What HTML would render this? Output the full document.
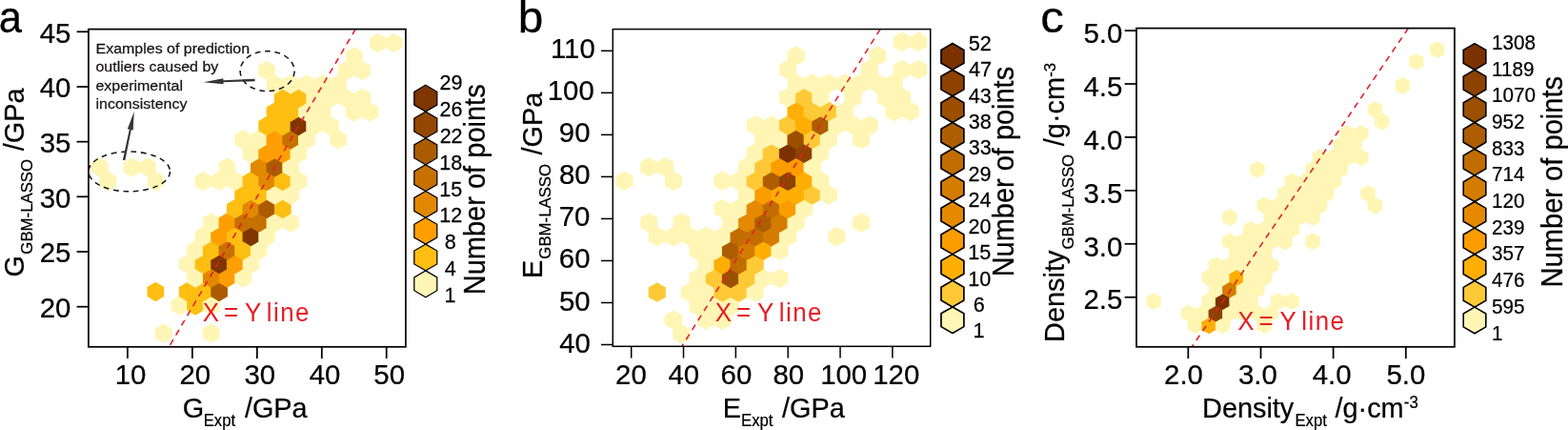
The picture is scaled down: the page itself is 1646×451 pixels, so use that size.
<!DOCTYPE html>
<html lang="en"><head><meta charset="utf-8"><title>Hexbin parity plots</title>
<style>html,body{margin:0;padding:0;background:#fff}body{width:1646px;height:451px;overflow:hidden}svg{display:block}text{font-family:"Liberation Sans",sans-serif;fill:#000;stroke:#000;stroke-width:0.25;stroke-linejoin:round}</style></head><body>
<svg width="1646" height="451" viewBox="0 0 1646 451">
<rect width="1646" height="451" fill="#fff"/>
<g id="panel-a">
<clipPath id="clip0"><rect x="92.90" y="30.60" width="333.00" height="333.20"/></clipPath>
<g clip-path="url(#clip0)">
<polygon points="171.70,339.26 180.54,344.38 180.54,354.62 171.70,359.74 162.86,354.62 162.86,344.38" fill="#fff6b5"/>
<polygon points="221.74,339.26 230.58,344.38 230.58,354.62 221.74,359.74 212.90,354.62 212.90,344.38" fill="#fff6b5"/>
<polygon points="188.38,310.26 197.22,315.38 197.22,325.62 188.38,330.74 179.54,325.62 179.54,315.38" fill="#fff6b5"/>
<polygon points="205.06,310.26 213.90,315.38 213.90,325.62 205.06,330.74 196.22,325.62 196.22,315.38" fill="#febe12"/>
<polygon points="221.74,310.26 230.58,315.38 230.58,325.62 221.74,330.74 212.90,325.62 212.90,315.38" fill="#fff6b5"/>
<polygon points="163.36,295.76 172.20,300.88 172.20,311.12 163.36,316.24 154.52,311.12 154.52,300.88" fill="#febe12"/>
<polygon points="196.72,295.76 205.56,300.88 205.56,311.12 196.72,316.24 187.88,311.12 187.88,300.88" fill="#febe12"/>
<polygon points="213.40,295.76 222.24,300.88 222.24,311.12 213.40,316.24 204.56,311.12 204.56,300.88" fill="#febe12"/>
<polygon points="230.08,295.76 238.92,300.88 238.92,311.12 230.08,316.24 221.24,311.12 221.24,300.88" fill="#ab5c00"/>
<polygon points="205.06,281.26 213.90,286.38 213.90,296.62 205.06,301.74 196.22,296.62 196.22,286.38" fill="#fff6b5"/>
<polygon points="221.74,281.26 230.58,286.38 230.58,296.62 221.74,301.74 212.90,296.62 212.90,286.38" fill="#e28800"/>
<polygon points="238.42,281.26 247.26,286.38 247.26,296.62 238.42,301.74 229.58,296.62 229.58,286.38" fill="#fe9e02"/>
<polygon points="255.10,281.26 263.94,286.38 263.94,296.62 255.10,301.74 246.26,296.62 246.26,286.38" fill="#fff6b5"/>
<polygon points="196.72,266.76 205.56,271.88 205.56,282.12 196.72,287.24 187.88,282.12 187.88,271.88" fill="#fff6b5"/>
<polygon points="213.40,266.76 222.24,271.88 222.24,282.12 213.40,287.24 204.56,282.12 204.56,271.88" fill="#febe12"/>
<polygon points="230.08,266.76 238.92,271.88 238.92,282.12 230.08,287.24 221.24,282.12 221.24,271.88" fill="#7f3600"/>
<polygon points="246.76,266.76 255.60,271.88 255.60,282.12 246.76,287.24 237.92,282.12 237.92,271.88" fill="#fe9e02"/>
<polygon points="263.44,266.76 272.28,271.88 272.28,282.12 263.44,287.24 254.60,282.12 254.60,271.88" fill="#fff6b5"/>
<polygon points="205.06,252.26 213.90,257.38 213.90,267.62 205.06,272.74 196.22,267.62 196.22,257.38" fill="#fff6b5"/>
<polygon points="221.74,252.26 230.58,257.38 230.58,267.62 221.74,272.74 212.90,267.62 212.90,257.38" fill="#febe12"/>
<polygon points="238.42,252.26 247.26,257.38 247.26,267.62 238.42,272.74 229.58,267.62 229.58,257.38" fill="#c67100"/>
<polygon points="255.10,252.26 263.94,257.38 263.94,267.62 255.10,272.74 246.26,267.62 246.26,257.38" fill="#febe12"/>
<polygon points="271.78,252.26 280.62,257.38 280.62,267.62 271.78,272.74 262.94,267.62 262.94,257.38" fill="#fff6b5"/>
<polygon points="213.40,237.76 222.24,242.88 222.24,253.12 213.40,258.24 204.56,253.12 204.56,242.88" fill="#fff6b5"/>
<polygon points="230.08,237.76 238.92,242.88 238.92,253.12 230.08,258.24 221.24,253.12 221.24,242.88" fill="#fe9e02"/>
<polygon points="246.76,237.76 255.60,242.88 255.60,253.12 246.76,258.24 237.92,253.12 237.92,242.88" fill="#febe12"/>
<polygon points="263.44,237.76 272.28,242.88 272.28,253.12 263.44,258.24 254.60,253.12 254.60,242.88" fill="#7f3600"/>
<polygon points="280.12,237.76 288.96,242.88 288.96,253.12 280.12,258.24 271.28,253.12 271.28,242.88" fill="#fff6b5"/>
<polygon points="221.74,223.26 230.58,228.38 230.58,238.62 221.74,243.74 212.90,238.62 212.90,228.38" fill="#fff6b5"/>
<polygon points="238.42,223.26 247.26,228.38 247.26,238.62 238.42,243.74 229.58,238.62 229.58,228.38" fill="#fe9e02"/>
<polygon points="255.10,223.26 263.94,228.38 263.94,238.62 255.10,243.74 246.26,238.62 246.26,228.38" fill="#c67100"/>
<polygon points="271.78,223.26 280.62,228.38 280.62,238.62 271.78,243.74 262.94,238.62 262.94,228.38" fill="#c67100"/>
<polygon points="288.46,223.26 297.30,228.38 297.30,238.62 288.46,243.74 279.62,238.62 279.62,228.38" fill="#fff6b5"/>
<polygon points="305.14,223.26 313.98,228.38 313.98,238.62 305.14,243.74 296.30,238.62 296.30,228.38" fill="#fff6b5"/>
<polygon points="246.76,208.76 255.60,213.88 255.60,224.12 246.76,229.24 237.92,224.12 237.92,213.88" fill="#febe12"/>
<polygon points="263.44,208.76 272.28,213.88 272.28,224.12 263.44,229.24 254.60,224.12 254.60,213.88" fill="#e28800"/>
<polygon points="280.12,208.76 288.96,213.88 288.96,224.12 280.12,229.24 271.28,224.12 271.28,213.88" fill="#ab5c00"/>
<polygon points="296.80,208.76 305.64,213.88 305.64,224.12 296.80,229.24 287.96,224.12 287.96,213.88" fill="#febe12"/>
<polygon points="255.10,194.26 263.94,199.38 263.94,209.62 255.10,214.74 246.26,209.62 246.26,199.38" fill="#febe12"/>
<polygon points="271.78,194.26 280.62,199.38 280.62,209.62 271.78,214.74 262.94,209.62 262.94,199.38" fill="#febe12"/>
<polygon points="288.46,194.26 297.30,199.38 297.30,209.62 288.46,214.74 279.62,209.62 279.62,199.38" fill="#fff6b5"/>
<polygon points="305.14,194.26 313.98,199.38 313.98,209.62 305.14,214.74 296.30,209.62 296.30,199.38" fill="#fff6b5"/>
<polygon points="113.32,179.76 122.16,184.88 122.16,195.12 113.32,200.24 104.48,195.12 104.48,184.88" fill="#fff6b5"/>
<polygon points="163.36,179.76 172.20,184.88 172.20,195.12 163.36,200.24 154.52,195.12 154.52,184.88" fill="#fff6b5"/>
<polygon points="213.40,179.76 222.24,184.88 222.24,195.12 213.40,200.24 204.56,195.12 204.56,184.88" fill="#fff6b5"/>
<polygon points="230.08,179.76 238.92,184.88 238.92,195.12 230.08,200.24 221.24,195.12 221.24,184.88" fill="#fff6b5"/>
<polygon points="246.76,179.76 255.60,184.88 255.60,195.12 246.76,200.24 237.92,195.12 237.92,184.88" fill="#fff6b5"/>
<polygon points="263.44,179.76 272.28,184.88 272.28,195.12 263.44,200.24 254.60,195.12 254.60,184.88" fill="#febe12"/>
<polygon points="280.12,179.76 288.96,184.88 288.96,195.12 280.12,200.24 271.28,195.12 271.28,184.88" fill="#e28800"/>
<polygon points="296.80,179.76 305.64,184.88 305.64,195.12 296.80,200.24 287.96,195.12 287.96,184.88" fill="#febe12"/>
<polygon points="313.48,179.76 322.32,184.88 322.32,195.12 313.48,200.24 304.64,195.12 304.64,184.88" fill="#fff6b5"/>
<polygon points="104.98,165.26 113.82,170.38 113.82,180.62 104.98,185.74 96.14,180.62 96.14,170.38" fill="#fff6b5"/>
<polygon points="138.34,165.26 147.18,170.38 147.18,180.62 138.34,185.74 129.50,180.62 129.50,170.38" fill="#fff6b5"/>
<polygon points="155.02,165.26 163.86,170.38 163.86,180.62 155.02,185.74 146.18,180.62 146.18,170.38" fill="#fff6b5"/>
<polygon points="238.42,165.26 247.26,170.38 247.26,180.62 238.42,185.74 229.58,180.62 229.58,170.38" fill="#fff6b5"/>
<polygon points="271.78,165.26 280.62,170.38 280.62,180.62 271.78,185.74 262.94,180.62 262.94,170.38" fill="#e28800"/>
<polygon points="288.46,165.26 297.30,170.38 297.30,180.62 288.46,185.74 279.62,180.62 279.62,170.38" fill="#ab5c00"/>
<polygon points="305.14,165.26 313.98,170.38 313.98,180.62 305.14,185.74 296.30,180.62 296.30,170.38" fill="#fff6b5"/>
<polygon points="263.44,150.76 272.28,155.88 272.28,166.12 263.44,171.24 254.60,166.12 254.60,155.88" fill="#fff6b5"/>
<polygon points="280.12,150.76 288.96,155.88 288.96,166.12 280.12,171.24 271.28,166.12 271.28,155.88" fill="#fe9e02"/>
<polygon points="296.80,150.76 305.64,155.88 305.64,166.12 296.80,171.24 287.96,166.12 287.96,155.88" fill="#fe9e02"/>
<polygon points="313.48,150.76 322.32,155.88 322.32,166.12 313.48,171.24 304.64,166.12 304.64,155.88" fill="#fff6b5"/>
<polygon points="255.10,136.26 263.94,141.38 263.94,151.62 255.10,156.74 246.26,151.62 246.26,141.38" fill="#fff6b5"/>
<polygon points="271.78,136.26 280.62,141.38 280.62,151.62 271.78,156.74 262.94,151.62 262.94,141.38" fill="#fff6b5"/>
<polygon points="288.46,136.26 297.30,141.38 297.30,151.62 288.46,156.74 279.62,151.62 279.62,141.38" fill="#fe9e02"/>
<polygon points="305.14,136.26 313.98,141.38 313.98,151.62 305.14,156.74 296.30,151.62 296.30,141.38" fill="#c67100"/>
<polygon points="321.82,136.26 330.66,141.38 330.66,151.62 321.82,156.74 312.98,151.62 312.98,141.38" fill="#fff6b5"/>
<polygon points="355.18,136.26 364.02,141.38 364.02,151.62 355.18,156.74 346.34,151.62 346.34,141.38" fill="#fff6b5"/>
<polygon points="280.12,121.76 288.96,126.88 288.96,137.12 280.12,142.24 271.28,137.12 271.28,126.88" fill="#febe12"/>
<polygon points="296.80,121.76 305.64,126.88 305.64,137.12 296.80,142.24 287.96,137.12 287.96,126.88" fill="#febe12"/>
<polygon points="313.48,121.76 322.32,126.88 322.32,137.12 313.48,142.24 304.64,137.12 304.64,126.88" fill="#7f3600"/>
<polygon points="330.16,121.76 339.00,126.88 339.00,137.12 330.16,142.24 321.32,137.12 321.32,126.88" fill="#fff6b5"/>
<polygon points="346.84,121.76 355.68,126.88 355.68,137.12 346.84,142.24 338.00,137.12 338.00,126.88" fill="#fff6b5"/>
<polygon points="288.46,107.26 297.30,112.38 297.30,122.62 288.46,127.74 279.62,122.62 279.62,112.38" fill="#febe12"/>
<polygon points="305.14,107.26 313.98,112.38 313.98,122.62 305.14,127.74 296.30,122.62 296.30,112.38" fill="#febe12"/>
<polygon points="321.82,107.26 330.66,112.38 330.66,122.62 321.82,127.74 312.98,122.62 312.98,112.38" fill="#fff6b5"/>
<polygon points="338.50,107.26 347.34,112.38 347.34,122.62 338.50,127.74 329.66,122.62 329.66,112.38" fill="#fff6b5"/>
<polygon points="371.86,107.26 380.70,112.38 380.70,122.62 371.86,127.74 363.02,122.62 363.02,112.38" fill="#fff6b5"/>
<polygon points="388.54,107.26 397.38,112.38 397.38,122.62 388.54,127.74 379.70,122.62 379.70,112.38" fill="#fff6b5"/>
<polygon points="296.80,92.76 305.64,97.88 305.64,108.12 296.80,113.24 287.96,108.12 287.96,97.88" fill="#febe12"/>
<polygon points="313.48,92.76 322.32,97.88 322.32,108.12 313.48,113.24 304.64,108.12 304.64,97.88" fill="#febe12"/>
<polygon points="330.16,92.76 339.00,97.88 339.00,108.12 330.16,113.24 321.32,108.12 321.32,97.88" fill="#fff6b5"/>
<polygon points="346.84,92.76 355.68,97.88 355.68,108.12 346.84,113.24 338.00,108.12 338.00,97.88" fill="#fff6b5"/>
<polygon points="363.52,92.76 372.36,97.88 372.36,108.12 363.52,113.24 354.68,108.12 354.68,97.88" fill="#fff6b5"/>
<polygon points="380.20,92.76 389.04,97.88 389.04,108.12 380.20,113.24 371.36,108.12 371.36,97.88" fill="#fff6b5"/>
<polygon points="288.46,78.26 297.30,83.38 297.30,93.62 288.46,98.74 279.62,93.62 279.62,83.38" fill="#fff6b5"/>
<polygon points="305.14,78.26 313.98,83.38 313.98,93.62 305.14,98.74 296.30,93.62 296.30,83.38" fill="#fff6b5"/>
<polygon points="321.82,78.26 330.66,83.38 330.66,93.62 321.82,98.74 312.98,93.62 312.98,83.38" fill="#fff6b5"/>
<polygon points="338.50,78.26 347.34,83.38 347.34,93.62 338.50,98.74 329.66,93.62 329.66,83.38" fill="#fff6b5"/>
<polygon points="355.18,78.26 364.02,83.38 364.02,93.62 355.18,98.74 346.34,93.62 346.34,83.38" fill="#fff6b5"/>
<polygon points="280.12,63.76 288.96,68.88 288.96,79.12 280.12,84.24 271.28,79.12 271.28,68.88" fill="#fff6b5"/>
<polygon points="363.52,63.76 372.36,68.88 372.36,79.12 363.52,84.24 354.68,79.12 354.68,68.88" fill="#fff6b5"/>
<polygon points="380.20,63.76 389.04,68.88 389.04,79.12 380.20,84.24 371.36,79.12 371.36,68.88" fill="#fff6b5"/>
<polygon points="371.86,49.26 380.70,54.38 380.70,64.62 371.86,69.74 363.02,64.62 363.02,54.38" fill="#fff6b5"/>
<polygon points="396.88,34.76 405.72,39.88 405.72,50.12 396.88,55.24 388.04,50.12 388.04,39.88" fill="#fff6b5"/>
<polygon points="413.56,34.76 422.40,39.88 422.40,50.12 413.56,55.24 404.72,50.12 404.72,39.88" fill="#fff6b5"/>
<line x1="373.20" y1="30.60" x2="177.40" y2="363.80" stroke="#e3202a" stroke-width="1.6" stroke-dasharray="6.5 5.3"/>
</g>
<text transform="translate(100.48 55.90) scale(1.1029 1)" font-size="14.5" style="fill:#1a1718;stroke:#1a1718"><tspan x="0" dy="0">Examples of prediction </tspan><tspan x="0" dy="19.37">outliers caused by </tspan><tspan x="0" dy="19.37">experimental </tspan><tspan x="0" dy="19.37">inconsistency</tspan></text>
<ellipse cx="280.6" cy="74.6" rx="28.5" ry="21" fill="none" stroke="#1a1718" stroke-width="1.55" stroke-dasharray="5.7 4.7"/>
<ellipse cx="135.7" cy="179.9" rx="42.8" ry="20.9" fill="none" stroke="#1a1718" stroke-width="1.55" stroke-dasharray="5.7 4.7"/>
<polygon points="267.54,82.65 234.44,84.37 234.35,82.37 213.50,86.30 234.61,88.37 234.52,86.37 267.66,85.15" fill="#363636"/>
<polygon points="131.32,168.16 137.77,136.19 139.73,136.60 140.80,116.90 133.86,135.37 135.82,135.78 128.88,167.64" fill="#363636"/>
<rect x="92.90" y="30.60" width="333.00" height="333.20" fill="none" stroke="#000" stroke-width="1.75"/>
<line x1="133.90" y1="363.80" x2="133.90" y2="376.10" stroke="#000" stroke-width="1.75"/>
<line x1="201.90" y1="363.80" x2="201.90" y2="376.10" stroke="#000" stroke-width="1.75"/>
<line x1="269.85" y1="363.80" x2="269.85" y2="376.10" stroke="#000" stroke-width="1.75"/>
<line x1="337.80" y1="363.80" x2="337.80" y2="376.10" stroke="#000" stroke-width="1.75"/>
<line x1="405.70" y1="363.80" x2="405.70" y2="376.10" stroke="#000" stroke-width="1.75"/>
<line x1="80.60" y1="33.30" x2="92.90" y2="33.30" stroke="#000" stroke-width="1.75"/>
<line x1="80.60" y1="91.00" x2="92.90" y2="91.00" stroke="#000" stroke-width="1.75"/>
<line x1="80.60" y1="148.65" x2="92.90" y2="148.65" stroke="#000" stroke-width="1.75"/>
<line x1="80.60" y1="206.30" x2="92.90" y2="206.30" stroke="#000" stroke-width="1.75"/>
<line x1="80.60" y1="264.00" x2="92.90" y2="264.00" stroke="#000" stroke-width="1.75"/>
<line x1="80.60" y1="321.70" x2="92.90" y2="321.70" stroke="#000" stroke-width="1.75"/>
<polygon points="446.80,89.30 458.80,96.25 458.80,110.15 446.80,117.10 434.80,110.15 434.80,96.25" fill="#7f3600" stroke="#000" stroke-width="1.25" stroke-linejoin="miter"/>
<polygon points="446.80,117.10 458.80,124.05 458.80,137.95 446.80,144.90 434.80,137.95 434.80,124.05" fill="#944700" stroke="#000" stroke-width="1.25" stroke-linejoin="miter"/>
<polygon points="446.80,144.90 458.80,151.85 458.80,165.75 446.80,172.70 434.80,165.75 434.80,151.85" fill="#ab5c00" stroke="#000" stroke-width="1.25" stroke-linejoin="miter"/>
<polygon points="446.80,172.70 458.80,179.65 458.80,193.55 446.80,200.50 434.80,193.55 434.80,179.65" fill="#c67100" stroke="#000" stroke-width="1.25" stroke-linejoin="miter"/>
<polygon points="446.80,200.50 458.80,207.45 458.80,221.35 446.80,228.30 434.80,221.35 434.80,207.45" fill="#e28800" stroke="#000" stroke-width="1.25" stroke-linejoin="miter"/>
<polygon points="446.80,228.30 458.80,235.25 458.80,249.15 446.80,256.10 434.80,249.15 434.80,235.25" fill="#fe9e02" stroke="#000" stroke-width="1.25" stroke-linejoin="miter"/>
<polygon points="446.80,256.10 458.80,263.05 458.80,276.95 446.80,283.90 434.80,276.95 434.80,263.05" fill="#febe12" stroke="#000" stroke-width="1.25" stroke-linejoin="miter"/>
<polygon points="446.80,283.90 458.80,290.85 458.80,304.75 446.80,311.70 434.80,304.75 434.80,290.85" fill="#fff6b5" stroke="#000" stroke-width="1.25" stroke-linejoin="miter"/>
<text transform="translate(41.75 44.72) scale(0.9700 1)" font-size="30.30">45</text>
<text transform="translate(41.68 102.42) scale(0.9700 1)" font-size="30.30">40</text>
<text transform="translate(41.75 160.07) scale(0.9700 1)" font-size="30.30">35</text>
<text transform="translate(41.68 217.72) scale(0.9700 1)" font-size="30.30">30</text>
<text transform="translate(41.75 275.42) scale(0.9700 1)" font-size="30.30">25</text>
<text transform="translate(41.68 333.12) scale(0.9700 1)" font-size="30.30">20</text>
<text transform="translate(120.74 403.00) scale(0.9700 1)" font-size="30.30">10</text>
<text transform="translate(188.40 403.00) scale(0.9700 1)" font-size="30.30">20</text>
<text transform="translate(256.54 403.00) scale(0.9700 1)" font-size="30.30">30</text>
<text transform="translate(324.71 403.00) scale(0.9700 1)" font-size="30.30">40</text>
<text transform="translate(392.35 403.00) scale(0.9700 1)" font-size="30.30">50</text>
<text transform="translate(461.58 94.11) scale(0.9500 1)" font-size="22.70">29</text>
<text transform="translate(461.55 121.97) scale(0.9500 1)" font-size="22.70">26</text>
<text transform="translate(461.63 149.83) scale(0.9500 1)" font-size="22.70">22</text>
<text transform="translate(461.28 177.69) scale(0.9500 1)" font-size="22.70">18</text>
<text transform="translate(461.25 205.55) scale(0.9500 1)" font-size="22.70">15</text>
<text transform="translate(461.36 233.41) scale(0.9500 1)" font-size="22.70">12</text>
<text transform="translate(466.82 261.27) scale(0.9500 1)" font-size="22.70">8</text>
<text transform="translate(466.87 289.13) scale(0.9500 1)" font-size="22.70">4</text>
<text transform="translate(466.52 316.99) scale(0.9500 1)" font-size="22.70">1</text>
<text transform="translate(-1.35 33.90) scale(0.9258 1)" font-size="47.00">a</text>
<text transform="translate(191.76 437.60) scale(0.9550 1)"><tspan x="-0.00" dy="0.00" font-size="30.20">G</tspan><tspan x="23.00" dy="9.40" font-size="17.50">Expt</tspan><tspan x="59.82" dy="-9.40" font-size="30.20"> /GPa</tspan></text>
<text transform="translate(24.50 290.55) rotate(-90) scale(0.9700 1)"><tspan x="-0.00" dy="0.00" font-size="29.80">G</tspan><tspan x="24.65" dy="9.50" font-size="17.30">GBM-LASSO</tspan><tspan x="128.15" dy="-9.50" font-size="29.80"> /GPa</tspan></text>
<text transform="translate(509.10 309.30) rotate(-90) scale(0.9367 1)" font-size="31.00">Number of points</text>
<text transform="translate(212.82 336.80) scale(0.9300 1)" style="fill:#e81c24;stroke:none"><tspan x="0.00" dy="0.00" font-size="27.80">X</tspan><tspan x="16.13" dy="0.00" font-size="27.80"> =</tspan><tspan x="40.34" dy="0.00" font-size="27.80"> Y</tspan><tspan x="62.69" dy="0.00" font-size="27.80" letter-spacing="1.56"> line</tspan></text>
</g>
<g id="panel-b">
<clipPath id="clip1"><rect x="643.30" y="30.60" width="333.40" height="332.70"/></clipPath>
<g clip-path="url(#clip1)">
<polygon points="715.53,340.00 724.60,345.15 724.60,355.45 715.53,360.60 706.46,355.45 706.46,345.15" fill="#fff6b5"/>
<polygon points="706.96,325.41 716.03,330.56 716.03,340.86 706.96,346.01 697.89,340.86 697.89,330.56" fill="#fff6b5"/>
<polygon points="741.25,325.41 750.32,330.56 750.32,340.86 741.25,346.01 732.18,340.86 732.18,330.56" fill="#fff6b5"/>
<polygon points="758.39,325.41 767.47,330.56 767.47,340.86 758.39,346.01 749.32,340.86 749.32,330.56" fill="#fff6b5"/>
<polygon points="732.68,310.82 741.75,315.97 741.75,326.27 732.68,331.42 723.60,326.27 723.60,315.97" fill="#fff6b5"/>
<polygon points="749.82,310.82 758.89,315.97 758.89,326.27 749.82,331.42 740.75,326.27 740.75,315.97" fill="#fff6b5"/>
<polygon points="766.97,310.82 776.04,315.97 776.04,326.27 766.97,331.42 757.89,326.27 757.89,315.97" fill="#fff6b5"/>
<polygon points="689.81,296.23 698.88,301.38 698.88,311.68 689.81,316.83 680.74,311.68 680.74,301.38" fill="#fec936"/>
<polygon points="724.10,296.23 733.18,301.38 733.18,311.68 724.10,316.83 715.03,311.68 715.03,301.38" fill="#fff6b5"/>
<polygon points="741.25,296.23 750.32,301.38 750.32,311.68 741.25,316.83 732.18,311.68 732.18,301.38" fill="#fff6b5"/>
<polygon points="758.39,296.23 767.47,301.38 767.47,311.68 758.39,316.83 749.32,311.68 749.32,301.38" fill="#fec936"/>
<polygon points="775.54,296.23 784.61,301.38 784.61,311.68 775.54,316.83 766.47,311.68 766.47,301.38" fill="#fec936"/>
<polygon points="792.68,296.23 801.75,301.38 801.75,311.68 792.68,316.83 783.61,311.68 783.61,301.38" fill="#fff6b5"/>
<polygon points="732.68,281.64 741.75,286.79 741.75,297.09 732.68,302.24 723.60,297.09 723.60,286.79" fill="#fff6b5"/>
<polygon points="749.82,281.64 758.89,286.79 758.89,297.09 749.82,302.24 740.75,297.09 740.75,286.79" fill="#fec936"/>
<polygon points="766.97,281.64 776.04,286.79 776.04,297.09 766.97,302.24 757.89,297.09 757.89,286.79" fill="#9d4f00"/>
<polygon points="784.11,281.64 793.18,286.79 793.18,297.09 784.11,302.24 775.04,297.09 775.04,286.79" fill="#fec936"/>
<polygon points="801.26,281.64 810.33,286.79 810.33,297.09 801.26,302.24 792.18,297.09 792.18,286.79" fill="#fff6b5"/>
<polygon points="818.40,281.64 827.47,286.79 827.47,297.09 818.40,302.24 809.33,297.09 809.33,286.79" fill="#fff6b5"/>
<polygon points="741.25,267.05 750.32,272.20 750.32,282.50 741.25,287.65 732.18,282.50 732.18,272.20" fill="#fff6b5"/>
<polygon points="758.39,267.05 767.47,272.20 767.47,282.50 758.39,287.65 749.32,282.50 749.32,272.20" fill="#feae05"/>
<polygon points="775.54,267.05 784.61,272.20 784.61,282.50 775.54,287.65 766.47,282.50 766.47,272.20" fill="#c16d00"/>
<polygon points="792.68,267.05 801.75,272.20 801.75,282.50 792.68,287.65 783.61,282.50 783.61,272.20" fill="#fec936"/>
<polygon points="732.68,252.46 741.75,257.61 741.75,267.91 732.68,273.06 723.60,267.91 723.60,257.61" fill="#fff6b5"/>
<polygon points="749.82,252.46 758.89,257.61 758.89,267.91 749.82,273.06 740.75,267.91 740.75,257.61" fill="#fff6b5"/>
<polygon points="766.97,252.46 776.04,257.61 776.04,267.91 766.97,273.06 757.89,267.91 757.89,257.61" fill="#ae5e00"/>
<polygon points="784.11,252.46 793.18,257.61 793.18,267.91 784.11,273.06 775.04,267.91 775.04,257.61" fill="#d47c00"/>
<polygon points="801.26,252.46 810.33,257.61 810.33,267.91 801.26,273.06 792.18,267.91 792.18,257.61" fill="#feae05"/>
<polygon points="818.40,252.46 827.47,257.61 827.47,267.91 818.40,273.06 809.33,267.91 809.33,257.61" fill="#fff6b5"/>
<polygon points="689.81,237.87 698.88,243.02 698.88,253.32 689.81,258.47 680.74,253.32 680.74,243.02" fill="#fff6b5"/>
<polygon points="706.96,237.87 716.03,243.02 716.03,253.32 706.96,258.47 697.89,253.32 697.89,243.02" fill="#fff6b5"/>
<polygon points="724.10,237.87 733.18,243.02 733.18,253.32 724.10,258.47 715.03,253.32 715.03,243.02" fill="#fff6b5"/>
<polygon points="741.25,237.87 750.32,243.02 750.32,253.32 741.25,258.47 732.18,253.32 732.18,243.02" fill="#fff6b5"/>
<polygon points="758.39,237.87 767.47,243.02 767.47,253.32 758.39,258.47 749.32,253.32 749.32,243.02" fill="#fff6b5"/>
<polygon points="775.54,237.87 784.61,243.02 784.61,253.32 775.54,258.47 766.47,253.32 766.47,243.02" fill="#c16d00"/>
<polygon points="792.68,237.87 801.75,243.02 801.75,253.32 792.68,258.47 783.61,253.32 783.61,243.02" fill="#c16d00"/>
<polygon points="809.83,237.87 818.90,243.02 818.90,253.32 809.83,258.47 800.76,253.32 800.76,243.02" fill="#d47c00"/>
<polygon points="826.97,237.87 836.05,243.02 836.05,253.32 826.97,258.47 817.90,253.32 817.90,243.02" fill="#fff6b5"/>
<polygon points="878.41,237.87 887.48,243.02 887.48,253.32 878.41,258.47 869.34,253.32 869.34,243.02" fill="#fff6b5"/>
<polygon points="681.24,223.28 690.31,228.43 690.31,238.73 681.24,243.88 672.17,238.73 672.17,228.43" fill="#fff6b5"/>
<polygon points="715.53,223.28 724.60,228.43 724.60,238.73 715.53,243.88 706.46,238.73 706.46,228.43" fill="#fff6b5"/>
<polygon points="766.97,223.28 776.04,228.43 776.04,238.73 766.97,243.88 757.89,238.73 757.89,228.43" fill="#fff6b5"/>
<polygon points="784.11,223.28 793.18,228.43 793.18,238.73 784.11,243.88 775.04,238.73 775.04,228.43" fill="#e58a00"/>
<polygon points="801.26,223.28 810.33,228.43 810.33,238.73 801.26,243.88 792.18,238.73 792.18,228.43" fill="#ae5e00"/>
<polygon points="818.40,223.28 827.47,228.43 827.47,238.73 818.40,243.88 809.33,238.73 809.33,228.43" fill="#d47c00"/>
<polygon points="835.55,223.28 844.62,228.43 844.62,238.73 835.55,243.88 826.47,238.73 826.47,228.43" fill="#fff6b5"/>
<polygon points="904.12,223.28 913.20,228.43 913.20,238.73 904.12,243.88 895.05,238.73 895.05,228.43" fill="#fff6b5"/>
<polygon points="758.39,208.69 767.47,213.84 767.47,224.14 758.39,229.29 749.32,224.14 749.32,213.84" fill="#fff6b5"/>
<polygon points="775.54,208.69 784.61,213.84 784.61,224.14 775.54,229.29 766.47,224.14 766.47,213.84" fill="#fff6b5"/>
<polygon points="792.68,208.69 801.75,213.84 801.75,224.14 792.68,229.29 783.61,224.14 783.61,213.84" fill="#e58a00"/>
<polygon points="809.83,208.69 818.90,213.84 818.90,224.14 809.83,229.29 800.76,224.14 800.76,213.84" fill="#c16d00"/>
<polygon points="826.97,208.69 836.05,213.84 836.05,224.14 826.97,229.29 817.90,224.14 817.90,213.84" fill="#fb9c00"/>
<polygon points="844.12,208.69 853.19,213.84 853.19,224.14 844.12,229.29 835.05,224.14 835.05,213.84" fill="#fff6b5"/>
<polygon points="784.11,194.10 793.18,199.25 793.18,209.55 784.11,214.70 775.04,209.55 775.04,199.25" fill="#fff6b5"/>
<polygon points="801.26,194.10 810.33,199.25 810.33,209.55 801.26,214.70 792.18,209.55 792.18,199.25" fill="#fb9c00"/>
<polygon points="818.40,194.10 827.47,199.25 827.47,209.55 818.40,214.70 809.33,209.55 809.33,199.25" fill="#feae05"/>
<polygon points="835.55,194.10 844.62,199.25 844.62,209.55 835.55,214.70 826.47,209.55 826.47,199.25" fill="#feae05"/>
<polygon points="852.69,194.10 861.76,199.25 861.76,209.55 852.69,214.70 843.62,209.55 843.62,199.25" fill="#fec936"/>
<polygon points="869.84,194.10 878.91,199.25 878.91,209.55 869.84,214.70 860.76,209.55 860.76,199.25" fill="#fff6b5"/>
<polygon points="655.52,179.51 664.60,184.66 664.60,194.96 655.52,200.11 646.45,194.96 646.45,184.66" fill="#fff6b5"/>
<polygon points="706.96,179.51 716.03,184.66 716.03,194.96 706.96,200.11 697.89,194.96 697.89,184.66" fill="#fff6b5"/>
<polygon points="758.39,179.51 767.47,184.66 767.47,194.96 758.39,200.11 749.32,194.96 749.32,184.66" fill="#fff6b5"/>
<polygon points="775.54,179.51 784.61,184.66 784.61,194.96 775.54,200.11 766.47,194.96 766.47,184.66" fill="#fff6b5"/>
<polygon points="792.68,179.51 801.75,184.66 801.75,194.96 792.68,200.11 783.61,194.96 783.61,184.66" fill="#fec936"/>
<polygon points="809.83,179.51 818.90,184.66 818.90,194.96 809.83,200.11 800.76,194.96 800.76,184.66" fill="#ae5e00"/>
<polygon points="826.97,179.51 836.05,184.66 836.05,194.96 826.97,200.11 817.90,194.96 817.90,184.66" fill="#8e4200"/>
<polygon points="844.12,179.51 853.19,184.66 853.19,194.96 844.12,200.11 835.05,194.96 835.05,184.66" fill="#feae05"/>
<polygon points="861.26,179.51 870.34,184.66 870.34,194.96 861.26,200.11 852.19,194.96 852.19,184.66" fill="#fff6b5"/>
<polygon points="681.24,164.92 690.31,170.07 690.31,180.37 681.24,185.52 672.17,180.37 672.17,170.07" fill="#fff6b5"/>
<polygon points="698.38,164.92 707.46,170.07 707.46,180.37 698.38,185.52 689.31,180.37 689.31,170.07" fill="#fff6b5"/>
<polygon points="784.11,164.92 793.18,170.07 793.18,180.37 784.11,185.52 775.04,180.37 775.04,170.07" fill="#fff6b5"/>
<polygon points="801.26,164.92 810.33,170.07 810.33,180.37 801.26,185.52 792.18,180.37 792.18,170.07" fill="#fec936"/>
<polygon points="818.40,164.92 827.47,170.07 827.47,180.37 818.40,185.52 809.33,180.37 809.33,170.07" fill="#fb9c00"/>
<polygon points="835.55,164.92 844.62,170.07 844.62,180.37 835.55,185.52 826.47,180.37 826.47,170.07" fill="#fb9c00"/>
<polygon points="852.69,164.92 861.76,170.07 861.76,180.37 852.69,185.52 843.62,180.37 843.62,170.07" fill="#fff6b5"/>
<polygon points="792.68,150.33 801.75,155.48 801.75,165.78 792.68,170.93 783.61,165.78 783.61,155.48" fill="#fff6b5"/>
<polygon points="809.83,150.33 818.90,155.48 818.90,165.78 809.83,170.93 800.76,165.78 800.76,155.48" fill="#fec936"/>
<polygon points="826.97,150.33 836.05,155.48 836.05,165.78 826.97,170.93 817.90,165.78 817.90,155.48" fill="#7c3200"/>
<polygon points="844.12,150.33 853.19,155.48 853.19,165.78 844.12,170.93 835.05,165.78 835.05,155.48" fill="#8e4200"/>
<polygon points="861.26,150.33 870.34,155.48 870.34,165.78 861.26,170.93 852.19,165.78 852.19,155.48" fill="#fff6b5"/>
<polygon points="801.26,135.74 810.33,140.89 810.33,151.19 801.26,156.34 792.18,151.19 792.18,140.89" fill="#fff6b5"/>
<polygon points="818.40,135.74 827.47,140.89 827.47,151.19 818.40,156.34 809.33,151.19 809.33,140.89" fill="#fff6b5"/>
<polygon points="835.55,135.74 844.62,140.89 844.62,151.19 835.55,156.34 826.47,151.19 826.47,140.89" fill="#9d4f00"/>
<polygon points="852.69,135.74 861.76,140.89 861.76,151.19 852.69,156.34 843.62,151.19 843.62,140.89" fill="#fec936"/>
<polygon points="869.84,135.74 878.91,140.89 878.91,151.19 869.84,156.34 860.76,151.19 860.76,140.89" fill="#fff6b5"/>
<polygon points="904.12,135.74 913.20,140.89 913.20,151.19 904.12,156.34 895.05,151.19 895.05,140.89" fill="#fff6b5"/>
<polygon points="792.68,121.15 801.75,126.30 801.75,136.60 792.68,141.75 783.61,136.60 783.61,126.30" fill="#fff6b5"/>
<polygon points="809.83,121.15 818.90,126.30 818.90,136.60 809.83,141.75 800.76,136.60 800.76,126.30" fill="#fff6b5"/>
<polygon points="826.97,121.15 836.05,126.30 836.05,136.60 826.97,141.75 817.90,136.60 817.90,126.30" fill="#fec936"/>
<polygon points="844.12,121.15 853.19,126.30 853.19,136.60 844.12,141.75 835.05,136.60 835.05,126.30" fill="#feae05"/>
<polygon points="861.26,121.15 870.34,126.30 870.34,136.60 861.26,141.75 852.19,136.60 852.19,126.30" fill="#ae5e00"/>
<polygon points="878.41,121.15 887.48,126.30 887.48,136.60 878.41,141.75 869.34,136.60 869.34,126.30" fill="#fff6b5"/>
<polygon points="895.55,121.15 904.62,126.30 904.62,136.60 895.55,141.75 886.48,136.60 886.48,126.30" fill="#fff6b5"/>
<polygon points="912.70,121.15 921.77,126.30 921.77,136.60 912.70,141.75 903.62,136.60 903.62,126.30" fill="#fff6b5"/>
<polygon points="835.55,106.56 844.62,111.71 844.62,122.01 835.55,127.16 826.47,122.01 826.47,111.71" fill="#feae05"/>
<polygon points="852.69,106.56 861.76,111.71 861.76,122.01 852.69,127.16 843.62,122.01 843.62,111.71" fill="#fec936"/>
<polygon points="869.84,106.56 878.91,111.71 878.91,122.01 869.84,127.16 860.76,122.01 860.76,111.71" fill="#fec936"/>
<polygon points="886.98,106.56 896.05,111.71 896.05,122.01 886.98,127.16 877.91,122.01 877.91,111.71" fill="#fff6b5"/>
<polygon points="938.41,106.56 947.49,111.71 947.49,122.01 938.41,127.16 929.34,122.01 929.34,111.71" fill="#fff6b5"/>
<polygon points="955.56,106.56 964.63,111.71 964.63,122.01 955.56,127.16 946.49,122.01 946.49,111.71" fill="#fff6b5"/>
<polygon points="826.97,91.97 836.05,97.12 836.05,107.42 826.97,112.57 817.90,107.42 817.90,97.12" fill="#fff6b5"/>
<polygon points="844.12,91.97 853.19,97.12 853.19,107.42 844.12,112.57 835.05,107.42 835.05,97.12" fill="#fec936"/>
<polygon points="861.26,91.97 870.34,97.12 870.34,107.42 861.26,112.57 852.19,107.42 852.19,97.12" fill="#fff6b5"/>
<polygon points="895.55,91.97 904.62,97.12 904.62,107.42 895.55,112.57 886.48,107.42 886.48,97.12" fill="#fff6b5"/>
<polygon points="929.84,91.97 938.91,97.12 938.91,107.42 929.84,112.57 920.77,107.42 920.77,97.12" fill="#fff6b5"/>
<polygon points="946.99,91.97 956.06,97.12 956.06,107.42 946.99,112.57 937.91,107.42 937.91,97.12" fill="#fff6b5"/>
<polygon points="835.55,77.38 844.62,82.53 844.62,92.83 835.55,97.98 826.47,92.83 826.47,82.53" fill="#fff6b5"/>
<polygon points="852.69,77.38 861.76,82.53 861.76,92.83 852.69,97.98 843.62,92.83 843.62,82.53" fill="#fff6b5"/>
<polygon points="869.84,77.38 878.91,82.53 878.91,92.83 869.84,97.98 860.76,92.83 860.76,82.53" fill="#fff6b5"/>
<polygon points="886.98,77.38 896.05,82.53 896.05,92.83 886.98,97.98 877.91,92.83 877.91,82.53" fill="#fff6b5"/>
<polygon points="904.12,77.38 913.20,82.53 913.20,92.83 904.12,97.98 895.05,92.83 895.05,82.53" fill="#fff6b5"/>
<polygon points="921.27,77.38 930.34,82.53 930.34,92.83 921.27,97.98 912.20,92.83 912.20,82.53" fill="#fff6b5"/>
<polygon points="938.41,77.38 947.49,82.53 947.49,92.83 938.41,97.98 929.34,92.83 929.34,82.53" fill="#fff6b5"/>
<polygon points="826.97,62.79 836.05,67.94 836.05,78.24 826.97,83.39 817.90,78.24 817.90,67.94" fill="#fff6b5"/>
<polygon points="912.70,62.79 921.77,67.94 921.77,78.24 912.70,83.39 903.62,78.24 903.62,67.94" fill="#fff6b5"/>
<polygon points="946.99,62.79 956.06,67.94 956.06,78.24 946.99,83.39 937.91,78.24 937.91,67.94" fill="#fff6b5"/>
<polygon points="964.13,62.79 973.21,67.94 973.21,78.24 964.13,83.39 955.06,78.24 955.06,67.94" fill="#fff6b5"/>
<polygon points="835.55,48.20 844.62,53.35 844.62,63.65 835.55,68.80 826.47,63.65 826.47,53.35" fill="#fff6b5"/>
<polygon points="921.27,48.20 930.34,53.35 930.34,63.65 921.27,68.80 912.20,63.65 912.20,53.35" fill="#fff6b5"/>
<polygon points="946.99,33.61 956.06,38.76 956.06,49.06 946.99,54.21 937.91,49.06 937.91,38.76" fill="#fff6b5"/>
<polygon points="964.13,33.61 973.21,38.76 973.21,49.06 964.13,54.21 955.06,49.06 955.06,38.76" fill="#fff6b5"/>
<line x1="924.00" y1="30.60" x2="715.80" y2="363.30" stroke="#e3202a" stroke-width="1.6" stroke-dasharray="6.5 5.3"/>
</g>
<rect x="643.30" y="30.60" width="333.40" height="332.70" fill="none" stroke="#000" stroke-width="1.5"/>
<line x1="662.70" y1="363.30" x2="662.70" y2="375.60" stroke="#000" stroke-width="1.5"/>
<line x1="717.50" y1="363.30" x2="717.50" y2="375.60" stroke="#000" stroke-width="1.5"/>
<line x1="772.35" y1="363.30" x2="772.35" y2="375.60" stroke="#000" stroke-width="1.5"/>
<line x1="827.20" y1="363.30" x2="827.20" y2="375.60" stroke="#000" stroke-width="1.5"/>
<line x1="882.00" y1="363.30" x2="882.00" y2="375.60" stroke="#000" stroke-width="1.5"/>
<line x1="936.85" y1="363.30" x2="936.85" y2="375.60" stroke="#000" stroke-width="1.5"/>
<line x1="631.00" y1="53.30" x2="643.30" y2="53.30" stroke="#000" stroke-width="1.5"/>
<line x1="631.00" y1="97.33" x2="643.30" y2="97.33" stroke="#000" stroke-width="1.5"/>
<line x1="631.00" y1="141.36" x2="643.30" y2="141.36" stroke="#000" stroke-width="1.5"/>
<line x1="631.00" y1="185.39" x2="643.30" y2="185.39" stroke="#000" stroke-width="1.5"/>
<line x1="631.00" y1="229.42" x2="643.30" y2="229.42" stroke="#000" stroke-width="1.5"/>
<line x1="631.00" y1="273.45" x2="643.30" y2="273.45" stroke="#000" stroke-width="1.5"/>
<line x1="631.00" y1="317.48" x2="643.30" y2="317.48" stroke="#000" stroke-width="1.5"/>
<line x1="631.00" y1="361.50" x2="643.30" y2="361.50" stroke="#000" stroke-width="1.5"/>
<polygon points="999.90,45.50 1011.85,52.41 1011.85,66.23 999.90,73.14 987.95,66.23 987.95,52.41" fill="#7c3200" stroke="#000" stroke-width="1.7" stroke-linejoin="miter"/>
<polygon points="999.90,73.14 1011.85,80.05 1011.85,93.87 999.90,100.78 987.95,93.87 987.95,80.05" fill="#8e4200" stroke="#000" stroke-width="1.7" stroke-linejoin="miter"/>
<polygon points="999.90,100.78 1011.85,107.69 1011.85,121.51 999.90,128.42 987.95,121.51 987.95,107.69" fill="#9d4f00" stroke="#000" stroke-width="1.7" stroke-linejoin="miter"/>
<polygon points="999.90,128.42 1011.85,135.33 1011.85,149.15 999.90,156.06 987.95,149.15 987.95,135.33" fill="#ae5e00" stroke="#000" stroke-width="1.7" stroke-linejoin="miter"/>
<polygon points="999.90,156.06 1011.85,162.97 1011.85,176.79 999.90,183.70 987.95,176.79 987.95,162.97" fill="#c16d00" stroke="#000" stroke-width="1.7" stroke-linejoin="miter"/>
<polygon points="999.90,183.70 1011.85,190.61 1011.85,204.43 999.90,211.34 987.95,204.43 987.95,190.61" fill="#d47c00" stroke="#000" stroke-width="1.7" stroke-linejoin="miter"/>
<polygon points="999.90,211.34 1011.85,218.25 1011.85,232.07 999.90,238.98 987.95,232.07 987.95,218.25" fill="#e58a00" stroke="#000" stroke-width="1.7" stroke-linejoin="miter"/>
<polygon points="999.90,238.98 1011.85,245.89 1011.85,259.71 999.90,266.62 987.95,259.71 987.95,245.89" fill="#fb9c00" stroke="#000" stroke-width="1.7" stroke-linejoin="miter"/>
<polygon points="999.90,266.62 1011.85,273.53 1011.85,287.35 999.90,294.26 987.95,287.35 987.95,273.53" fill="#feae05" stroke="#000" stroke-width="1.7" stroke-linejoin="miter"/>
<polygon points="999.90,294.26 1011.85,301.17 1011.85,314.99 999.90,321.90 987.95,314.99 987.95,301.17" fill="#fec936" stroke="#000" stroke-width="1.7" stroke-linejoin="miter"/>
<polygon points="999.90,321.90 1011.85,328.81 1011.85,342.63 999.90,349.54 987.95,342.63 987.95,328.81" fill="#fff6b5" stroke="#000" stroke-width="1.7" stroke-linejoin="miter"/>
<text transform="translate(577.90 60.92) scale(0.9700 1)" font-size="30.30">110</text>
<text transform="translate(574.79 104.95) scale(0.9700 1)" font-size="30.30">100</text>
<text transform="translate(586.84 149.38) scale(0.9700 1)" font-size="30.30">90</text>
<text transform="translate(586.91 193.41) scale(0.9700 1)" font-size="30.30">80</text>
<text transform="translate(586.77 237.44) scale(0.9700 1)" font-size="30.30">70</text>
<text transform="translate(586.80 281.47) scale(0.9700 1)" font-size="30.30">60</text>
<text transform="translate(586.95 325.50) scale(0.9700 1)" font-size="30.30">50</text>
<text transform="translate(587.21 369.52) scale(0.9700 1)" font-size="30.30">40</text>
<text transform="translate(646.10 403.00) scale(0.9700 1)" font-size="30.30">20</text>
<text transform="translate(701.41 403.00) scale(0.9700 1)" font-size="30.30">40</text>
<text transform="translate(756.60 403.00) scale(0.9700 1)" font-size="30.30">60</text>
<text transform="translate(811.41 403.00) scale(0.9700 1)" font-size="30.30">80</text>
<text transform="translate(861.14 403.00) scale(0.9700 1)" font-size="30.30">100</text>
<text transform="translate(916.24 403.00) scale(0.9700 1)" font-size="30.30">120</text>
<text transform="translate(1016.74 52.81) scale(0.9500 1)" font-size="22.70">52</text>
<text transform="translate(1016.93 80.23) scale(0.9500 1)" font-size="22.70">47</text>
<text transform="translate(1016.85 107.65) scale(0.9500 1)" font-size="22.70">43</text>
<text transform="translate(1016.69 135.07) scale(0.9500 1)" font-size="22.70">38</text>
<text transform="translate(1016.69 162.49) scale(0.9500 1)" font-size="22.70">33</text>
<text transform="translate(1016.58 189.91) scale(0.9500 1)" font-size="22.70">29</text>
<text transform="translate(1016.39 217.33) scale(0.9500 1)" font-size="22.70">24</text>
<text transform="translate(1016.50 244.75) scale(0.9500 1)" font-size="22.70">20</text>
<text transform="translate(1016.25 272.17) scale(0.9500 1)" font-size="22.70">15</text>
<text transform="translate(1016.23 299.59) scale(0.9500 1)" font-size="22.70">10</text>
<text transform="translate(1021.73 327.01) scale(0.9500 1)" font-size="22.70">6</text>
<text transform="translate(1021.52 354.43) scale(0.9500 1)" font-size="22.70">1</text>
<text transform="translate(543.69 33.80) scale(1.0165 1)" font-size="47.00">b</text>
<text transform="translate(758.82 437.90) scale(0.9550 1)"><tspan x="0.00" dy="0.00" font-size="30.20">E</tspan><tspan x="20.11" dy="9.20" font-size="17.50">Expt</tspan><tspan x="56.71" dy="-9.20" font-size="30.20"> /GPa</tspan></text>
<text transform="translate(568.60 291.98) rotate(-90) scale(0.9700 1)"><tspan x="0.00" dy="0.00" font-size="29.80">E</tspan><tspan x="20.97" dy="9.50" font-size="17.30">GBM-LASSO</tspan><tspan x="125.31" dy="-9.50" font-size="29.80"> /GPa</tspan></text>
<text transform="translate(1064.10 290.29) rotate(-90) scale(0.9341 1)" font-size="31.00">Number of points</text>
<text transform="translate(750.82 337.10) scale(0.9300 1)" style="fill:#e81c24;stroke:none"><tspan x="0.00" dy="0.00" font-size="27.80">X</tspan><tspan x="16.13" dy="0.00" font-size="27.80"> =</tspan><tspan x="40.34" dy="0.00" font-size="27.80"> Y</tspan><tspan x="62.69" dy="0.00" font-size="27.80" letter-spacing="1.56"> line</tspan></text>
</g>
<g id="panel-c">
<clipPath id="clip2"><rect x="1192.95" y="29.60" width="333.95" height="334.20"/></clipPath>
<g clip-path="url(#clip2)">
<polygon points="1254.58,332.24 1262.34,336.72 1262.34,345.68 1254.58,350.16 1246.82,345.68 1246.82,336.72" fill="#fff6b5"/>
<polygon points="1269.10,332.24 1276.86,336.72 1276.86,345.68 1269.10,350.16 1261.34,345.68 1261.34,336.72" fill="#feae05"/>
<polygon points="1283.62,332.24 1291.38,336.72 1291.38,345.68 1283.62,350.16 1275.86,345.68 1275.86,336.72" fill="#fff6b5"/>
<polygon points="1327.18,332.24 1334.94,336.72 1334.94,345.68 1327.18,350.16 1319.42,345.68 1319.42,336.72" fill="#fff6b5"/>
<polygon points="1247.32,319.67 1255.08,324.15 1255.08,333.11 1247.32,337.59 1239.56,333.11 1239.56,324.15" fill="#fff6b5"/>
<polygon points="1261.84,319.67 1269.60,324.15 1269.60,333.11 1261.84,337.59 1254.08,333.11 1254.08,324.15" fill="#fff6b5"/>
<polygon points="1276.36,319.67 1284.12,324.15 1284.12,333.11 1276.36,337.59 1268.60,333.11 1268.60,324.15" fill="#8e4200"/>
<polygon points="1290.88,319.67 1298.64,324.15 1298.64,333.11 1290.88,337.59 1283.12,333.11 1283.12,324.15" fill="#fff6b5"/>
<polygon points="1305.40,319.67 1313.16,324.15 1313.16,333.11 1305.40,337.59 1297.64,333.11 1297.64,324.15" fill="#fff6b5"/>
<polygon points="1319.92,319.67 1327.68,324.15 1327.68,333.11 1319.92,337.59 1312.16,333.11 1312.16,324.15" fill="#fff6b5"/>
<polygon points="1334.44,319.67 1342.20,324.15 1342.20,333.11 1334.44,337.59 1326.68,333.11 1326.68,324.15" fill="#fff6b5"/>
<polygon points="1211.02,307.10 1218.78,311.58 1218.78,320.54 1211.02,325.02 1203.26,320.54 1203.26,311.58" fill="#fff6b5"/>
<polygon points="1269.10,307.10 1276.86,311.58 1276.86,320.54 1269.10,325.02 1261.34,320.54 1261.34,311.58" fill="#fff6b5"/>
<polygon points="1283.62,307.10 1291.38,311.58 1291.38,320.54 1283.62,325.02 1275.86,320.54 1275.86,311.58" fill="#7c3200"/>
<polygon points="1298.14,307.10 1305.90,311.58 1305.90,320.54 1298.14,325.02 1290.38,320.54 1290.38,311.58" fill="#fff6b5"/>
<polygon points="1312.66,307.10 1320.42,311.58 1320.42,320.54 1312.66,325.02 1304.90,320.54 1304.90,311.58" fill="#fff6b5"/>
<polygon points="1341.70,307.10 1349.46,311.58 1349.46,320.54 1341.70,325.02 1333.94,320.54 1333.94,311.58" fill="#fff6b5"/>
<polygon points="1356.22,307.10 1363.98,311.58 1363.98,320.54 1356.22,325.02 1348.46,320.54 1348.46,311.58" fill="#fff6b5"/>
<polygon points="1276.36,294.53 1284.12,299.01 1284.12,307.97 1276.36,312.45 1268.60,307.97 1268.60,299.01" fill="#fff6b5"/>
<polygon points="1290.88,294.53 1298.64,299.01 1298.64,307.97 1290.88,312.45 1283.12,307.97 1283.12,299.01" fill="#d47c00"/>
<polygon points="1305.40,294.53 1313.16,299.01 1313.16,307.97 1305.40,312.45 1297.64,307.97 1297.64,299.01" fill="#fff6b5"/>
<polygon points="1319.92,294.53 1327.68,299.01 1327.68,307.97 1319.92,312.45 1312.16,307.97 1312.16,299.01" fill="#fff6b5"/>
<polygon points="1269.10,281.96 1276.86,286.44 1276.86,295.40 1269.10,299.88 1261.34,295.40 1261.34,286.44" fill="#fff6b5"/>
<polygon points="1283.62,281.96 1291.38,286.44 1291.38,295.40 1283.62,299.88 1275.86,295.40 1275.86,286.44" fill="#fff6b5"/>
<polygon points="1298.14,281.96 1305.90,286.44 1305.90,295.40 1298.14,299.88 1290.38,295.40 1290.38,286.44" fill="#feae05"/>
<polygon points="1312.66,281.96 1320.42,286.44 1320.42,295.40 1312.66,299.88 1304.90,295.40 1304.90,286.44" fill="#fff6b5"/>
<polygon points="1327.18,281.96 1334.94,286.44 1334.94,295.40 1327.18,299.88 1319.42,295.40 1319.42,286.44" fill="#fff6b5"/>
<polygon points="1276.36,269.39 1284.12,273.87 1284.12,282.83 1276.36,287.31 1268.60,282.83 1268.60,273.87" fill="#fff6b5"/>
<polygon points="1290.88,269.39 1298.64,273.87 1298.64,282.83 1290.88,287.31 1283.12,282.83 1283.12,273.87" fill="#fff6b5"/>
<polygon points="1305.40,269.39 1313.16,273.87 1313.16,282.83 1305.40,287.31 1297.64,282.83 1297.64,273.87" fill="#fff6b5"/>
<polygon points="1319.92,269.39 1327.68,273.87 1327.68,282.83 1319.92,287.31 1312.16,282.83 1312.16,273.87" fill="#fff6b5"/>
<polygon points="1334.44,269.39 1342.20,273.87 1342.20,282.83 1334.44,287.31 1326.68,282.83 1326.68,273.87" fill="#fff6b5"/>
<polygon points="1298.14,256.82 1305.90,261.30 1305.90,270.26 1298.14,274.74 1290.38,270.26 1290.38,261.30" fill="#fff6b5"/>
<polygon points="1312.66,256.82 1320.42,261.30 1320.42,270.26 1312.66,274.74 1304.90,270.26 1304.90,261.30" fill="#fff6b5"/>
<polygon points="1327.18,256.82 1334.94,261.30 1334.94,270.26 1327.18,274.74 1319.42,270.26 1319.42,261.30" fill="#fff6b5"/>
<polygon points="1290.88,244.25 1298.64,248.73 1298.64,257.69 1290.88,262.17 1283.12,257.69 1283.12,248.73" fill="#fff6b5"/>
<polygon points="1305.40,244.25 1313.16,248.73 1313.16,257.69 1305.40,262.17 1297.64,257.69 1297.64,248.73" fill="#fff6b5"/>
<polygon points="1319.92,244.25 1327.68,248.73 1327.68,257.69 1319.92,262.17 1312.16,257.69 1312.16,248.73" fill="#fff6b5"/>
<polygon points="1334.44,244.25 1342.20,248.73 1342.20,257.69 1334.44,262.17 1326.68,257.69 1326.68,248.73" fill="#fff6b5"/>
<polygon points="1348.96,244.25 1356.72,248.73 1356.72,257.69 1348.96,262.17 1341.20,257.69 1341.20,248.73" fill="#fff6b5"/>
<polygon points="1378.00,244.25 1385.76,248.73 1385.76,257.69 1378.00,262.17 1370.24,257.69 1370.24,248.73" fill="#fff6b5"/>
<polygon points="1312.66,231.68 1320.42,236.16 1320.42,245.12 1312.66,249.60 1304.90,245.12 1304.90,236.16" fill="#fff6b5"/>
<polygon points="1327.18,231.68 1334.94,236.16 1334.94,245.12 1327.18,249.60 1319.42,245.12 1319.42,236.16" fill="#fff6b5"/>
<polygon points="1341.70,231.68 1349.46,236.16 1349.46,245.12 1341.70,249.60 1333.94,245.12 1333.94,236.16" fill="#fff6b5"/>
<polygon points="1356.22,231.68 1363.98,236.16 1363.98,245.12 1356.22,249.60 1348.46,245.12 1348.46,236.16" fill="#fff6b5"/>
<polygon points="1290.88,219.11 1298.64,223.59 1298.64,232.55 1290.88,237.03 1283.12,232.55 1283.12,223.59" fill="#fff6b5"/>
<polygon points="1334.44,219.11 1342.20,223.59 1342.20,232.55 1334.44,237.03 1326.68,232.55 1326.68,223.59" fill="#fff6b5"/>
<polygon points="1348.96,219.11 1356.72,223.59 1356.72,232.55 1348.96,237.03 1341.20,232.55 1341.20,223.59" fill="#fff6b5"/>
<polygon points="1363.48,219.11 1371.24,223.59 1371.24,232.55 1363.48,237.03 1355.72,232.55 1355.72,223.59" fill="#fff6b5"/>
<polygon points="1378.00,219.11 1385.76,223.59 1385.76,232.55 1378.00,237.03 1370.24,232.55 1370.24,223.59" fill="#fff6b5"/>
<polygon points="1327.18,206.54 1334.94,211.02 1334.94,219.98 1327.18,224.46 1319.42,219.98 1319.42,211.02" fill="#fff6b5"/>
<polygon points="1341.70,206.54 1349.46,211.02 1349.46,219.98 1341.70,224.46 1333.94,219.98 1333.94,211.02" fill="#fff6b5"/>
<polygon points="1356.22,206.54 1363.98,211.02 1363.98,219.98 1356.22,224.46 1348.46,219.98 1348.46,211.02" fill="#fff6b5"/>
<polygon points="1370.74,206.54 1378.50,211.02 1378.50,219.98 1370.74,224.46 1362.98,219.98 1362.98,211.02" fill="#fff6b5"/>
<polygon points="1385.26,206.54 1393.02,211.02 1393.02,219.98 1385.26,224.46 1377.50,219.98 1377.50,211.02" fill="#fff6b5"/>
<polygon points="1443.34,206.54 1451.10,211.02 1451.10,219.98 1443.34,224.46 1435.58,219.98 1435.58,211.02" fill="#fff6b5"/>
<polygon points="1348.96,193.97 1356.72,198.45 1356.72,207.41 1348.96,211.89 1341.20,207.41 1341.20,198.45" fill="#fff6b5"/>
<polygon points="1363.48,193.97 1371.24,198.45 1371.24,207.41 1363.48,211.89 1355.72,207.41 1355.72,198.45" fill="#fff6b5"/>
<polygon points="1378.00,193.97 1385.76,198.45 1385.76,207.41 1378.00,211.89 1370.24,207.41 1370.24,198.45" fill="#fff6b5"/>
<polygon points="1392.52,193.97 1400.28,198.45 1400.28,207.41 1392.52,211.89 1384.76,207.41 1384.76,198.45" fill="#fff6b5"/>
<polygon points="1436.08,193.97 1443.84,198.45 1443.84,207.41 1436.08,211.89 1428.32,207.41 1428.32,198.45" fill="#fff6b5"/>
<polygon points="1356.22,181.40 1363.98,185.88 1363.98,194.84 1356.22,199.32 1348.46,194.84 1348.46,185.88" fill="#fff6b5"/>
<polygon points="1370.74,181.40 1378.50,185.88 1378.50,194.84 1370.74,199.32 1362.98,194.84 1362.98,185.88" fill="#fff6b5"/>
<polygon points="1385.26,181.40 1393.02,185.88 1393.02,194.84 1385.26,199.32 1377.50,194.84 1377.50,185.88" fill="#fff6b5"/>
<polygon points="1399.78,181.40 1407.54,185.88 1407.54,194.84 1399.78,199.32 1392.02,194.84 1392.02,185.88" fill="#fff6b5"/>
<polygon points="1319.92,168.83 1327.68,173.31 1327.68,182.27 1319.92,186.75 1312.16,182.27 1312.16,173.31" fill="#fff6b5"/>
<polygon points="1378.00,168.83 1385.76,173.31 1385.76,182.27 1378.00,186.75 1370.24,182.27 1370.24,173.31" fill="#fff6b5"/>
<polygon points="1392.52,168.83 1400.28,173.31 1400.28,182.27 1392.52,186.75 1384.76,182.27 1384.76,173.31" fill="#fff6b5"/>
<polygon points="1407.04,168.83 1414.80,173.31 1414.80,182.27 1407.04,186.75 1399.28,182.27 1399.28,173.31" fill="#fff6b5"/>
<polygon points="1385.26,156.26 1393.02,160.74 1393.02,169.70 1385.26,174.18 1377.50,169.70 1377.50,160.74" fill="#fff6b5"/>
<polygon points="1399.78,156.26 1407.54,160.74 1407.54,169.70 1399.78,174.18 1392.02,169.70 1392.02,160.74" fill="#fff6b5"/>
<polygon points="1414.30,156.26 1422.06,160.74 1422.06,169.70 1414.30,174.18 1406.54,169.70 1406.54,160.74" fill="#fff6b5"/>
<polygon points="1428.82,156.26 1436.58,160.74 1436.58,169.70 1428.82,174.18 1421.06,169.70 1421.06,160.74" fill="#fff6b5"/>
<polygon points="1407.04,143.69 1414.80,148.17 1414.80,157.13 1407.04,161.61 1399.28,157.13 1399.28,148.17" fill="#fff6b5"/>
<polygon points="1421.56,143.69 1429.32,148.17 1429.32,157.13 1421.56,161.61 1413.80,157.13 1413.80,148.17" fill="#fff6b5"/>
<polygon points="1414.30,131.12 1422.06,135.60 1422.06,144.56 1414.30,149.04 1406.54,144.56 1406.54,135.60" fill="#fff6b5"/>
<polygon points="1428.82,131.12 1436.58,135.60 1436.58,144.56 1428.82,149.04 1421.06,144.56 1421.06,135.60" fill="#fff6b5"/>
<polygon points="1450.60,118.55 1458.36,123.03 1458.36,131.99 1450.60,136.47 1442.84,131.99 1442.84,123.03" fill="#fff6b5"/>
<polygon points="1443.34,105.98 1451.10,110.46 1451.10,119.42 1443.34,123.90 1435.58,119.42 1435.58,110.46" fill="#fff6b5"/>
<polygon points="1472.38,80.84 1480.14,85.32 1480.14,94.28 1472.38,98.76 1464.62,94.28 1464.62,85.32" fill="#fff6b5"/>
<polygon points="1486.90,55.70 1494.66,60.18 1494.66,69.14 1486.90,73.62 1479.14,69.14 1479.14,60.18" fill="#fff6b5"/>
<polygon points="1508.68,43.13 1516.44,47.61 1516.44,56.57 1508.68,61.05 1500.92,56.57 1500.92,47.61" fill="#fff6b5"/>
<line x1="1478.40" y1="29.60" x2="1251.20" y2="363.80" stroke="#e3202a" stroke-width="1.6" stroke-dasharray="6.5 5.3"/>
</g>
<rect x="1192.95" y="29.60" width="333.95" height="334.20" fill="none" stroke="#000" stroke-width="1.75"/>
<line x1="1247.30" y1="363.80" x2="1247.30" y2="376.10" stroke="#000" stroke-width="1.75"/>
<line x1="1323.50" y1="363.80" x2="1323.50" y2="376.10" stroke="#000" stroke-width="1.75"/>
<line x1="1399.60" y1="363.80" x2="1399.60" y2="376.10" stroke="#000" stroke-width="1.75"/>
<line x1="1475.80" y1="363.80" x2="1475.80" y2="376.10" stroke="#000" stroke-width="1.75"/>
<line x1="1180.65" y1="32.10" x2="1192.95" y2="32.10" stroke="#000" stroke-width="1.75"/>
<line x1="1180.65" y1="88.00" x2="1192.95" y2="88.00" stroke="#000" stroke-width="1.75"/>
<line x1="1180.65" y1="143.90" x2="1192.95" y2="143.90" stroke="#000" stroke-width="1.75"/>
<line x1="1180.65" y1="199.85" x2="1192.95" y2="199.85" stroke="#000" stroke-width="1.75"/>
<line x1="1180.65" y1="255.80" x2="1192.95" y2="255.80" stroke="#000" stroke-width="1.75"/>
<line x1="1180.65" y1="311.75" x2="1192.95" y2="311.75" stroke="#000" stroke-width="1.75"/>
<polygon points="1548.00,45.60 1559.80,52.51 1559.80,66.34 1548.00,73.25 1536.20,66.34 1536.20,52.51" fill="#7c3200" stroke="#000" stroke-width="1.6" stroke-linejoin="miter"/>
<polygon points="1548.00,73.25 1559.80,80.16 1559.80,93.99 1548.00,100.90 1536.20,93.99 1536.20,80.16" fill="#8e4200" stroke="#000" stroke-width="1.6" stroke-linejoin="miter"/>
<polygon points="1548.00,100.90 1559.80,107.81 1559.80,121.64 1548.00,128.55 1536.20,121.64 1536.20,107.81" fill="#9d4f00" stroke="#000" stroke-width="1.6" stroke-linejoin="miter"/>
<polygon points="1548.00,128.55 1559.80,135.46 1559.80,149.29 1548.00,156.20 1536.20,149.29 1536.20,135.46" fill="#ae5e00" stroke="#000" stroke-width="1.6" stroke-linejoin="miter"/>
<polygon points="1548.00,156.20 1559.80,163.11 1559.80,176.94 1548.00,183.85 1536.20,176.94 1536.20,163.11" fill="#c16d00" stroke="#000" stroke-width="1.6" stroke-linejoin="miter"/>
<polygon points="1548.00,183.85 1559.80,190.76 1559.80,204.59 1548.00,211.50 1536.20,204.59 1536.20,190.76" fill="#d47c00" stroke="#000" stroke-width="1.6" stroke-linejoin="miter"/>
<polygon points="1548.00,211.50 1559.80,218.41 1559.80,232.24 1548.00,239.15 1536.20,232.24 1536.20,218.41" fill="#e58a00" stroke="#000" stroke-width="1.6" stroke-linejoin="miter"/>
<polygon points="1548.00,239.15 1559.80,246.06 1559.80,259.89 1548.00,266.80 1536.20,259.89 1536.20,246.06" fill="#fb9c00" stroke="#000" stroke-width="1.6" stroke-linejoin="miter"/>
<polygon points="1548.00,266.80 1559.80,273.71 1559.80,287.54 1548.00,294.45 1536.20,287.54 1536.20,273.71" fill="#feae05" stroke="#000" stroke-width="1.6" stroke-linejoin="miter"/>
<polygon points="1548.00,294.45 1559.80,301.36 1559.80,315.19 1548.00,322.10 1536.20,315.19 1536.20,301.36" fill="#fec936" stroke="#000" stroke-width="1.6" stroke-linejoin="miter"/>
<polygon points="1548.00,322.10 1559.80,329.01 1559.80,342.84 1548.00,349.75 1536.20,342.84 1536.20,329.01" fill="#fff6b5" stroke="#000" stroke-width="1.6" stroke-linejoin="miter"/>
<text transform="translate(1137.45 44.82) scale(0.9700 1)" font-size="30.30">5.0</text>
<text transform="translate(1137.52 100.72) scale(0.9700 1)" font-size="30.30">4.5</text>
<text transform="translate(1137.45 156.62) scale(0.9700 1)" font-size="30.30">4.0</text>
<text transform="translate(1137.52 212.57) scale(0.9700 1)" font-size="30.30">3.5</text>
<text transform="translate(1137.45 268.52) scale(0.9700 1)" font-size="30.30">3.0</text>
<text transform="translate(1137.52 324.47) scale(0.9700 1)" font-size="30.30">2.5</text>
<text transform="translate(1222.09 403.00) scale(0.9700 1)" font-size="30.30">2.0</text>
<text transform="translate(1299.97 403.00) scale(0.9700 1)" font-size="30.30">3.0</text>
<text transform="translate(1377.69 403.00) scale(0.9700 1)" font-size="30.30">4.0</text>
<text transform="translate(1455.44 403.00) scale(0.9700 1)" font-size="30.30">5.0</text>
<text transform="translate(1566.00 51.94) scale(0.9300 1)" font-size="22.20">1308</text>
<text transform="translate(1566.00 79.63) scale(0.9300 1)" font-size="22.20">1189</text>
<text transform="translate(1566.00 107.32) scale(0.9300 1)" font-size="22.20">1070</text>
<text transform="translate(1566.00 135.01) scale(0.9300 1)" font-size="22.20">952</text>
<text transform="translate(1566.00 162.70) scale(0.9300 1)" font-size="22.20">833</text>
<text transform="translate(1566.00 190.39) scale(0.9300 1)" font-size="22.20">714</text>
<text transform="translate(1566.00 218.08) scale(0.9300 1)" font-size="22.20">120</text>
<text transform="translate(1566.00 245.77) scale(0.9300 1)" font-size="22.20">239</text>
<text transform="translate(1566.00 273.46) scale(0.9300 1)" font-size="22.20">357</text>
<text transform="translate(1566.00 301.15) scale(0.9300 1)" font-size="22.20">476</text>
<text transform="translate(1566.00 328.84) scale(0.9300 1)" font-size="22.20">595</text>
<text transform="translate(1566.00 356.53) scale(0.9300 1)" font-size="22.20">1</text>
<text transform="translate(1092.20 33.90) scale(1.0490 1)" font-size="47.00">c</text>
<text transform="translate(1262.12 437.90) scale(0.9550 1)"><tspan x="0.00" dy="0.00" font-size="30.20">Density</tspan><tspan x="101.89" dy="9.10" font-size="17.50">Expt</tspan><tspan x="137.55" dy="-9.10" font-size="30.20"> /g·cm</tspan><tspan x="221.70" dy="-9.90" font-size="17.50">-3</tspan></text>
<text transform="translate(1117.40 358.98) rotate(-90) scale(0.9700 1)"><tspan x="0.00" dy="0.00" font-size="29.80">Density</tspan><tspan x="100.46" dy="10.00" font-size="17.30">GBM-LASSO</tspan><tspan x="203.86" dy="-10.00" font-size="29.80"> /g·cm</tspan><tspan x="286.83" dy="-9.60" font-size="17.30">-3</tspan></text>
<text transform="translate(1639.50 301.50) rotate(-90) scale(0.9392 1)" font-size="31.00">Number of points</text>
<text transform="translate(1299.32 346.00) scale(0.9300 1)" style="fill:#e81c24;stroke:none"><tspan x="0.00" dy="0.00" font-size="27.80">X</tspan><tspan x="16.13" dy="0.00" font-size="27.80"> =</tspan><tspan x="40.34" dy="0.00" font-size="27.80"> Y</tspan><tspan x="62.69" dy="0.00" font-size="27.80" letter-spacing="1.56"> line</tspan></text>
</g>
</svg></body></html>
